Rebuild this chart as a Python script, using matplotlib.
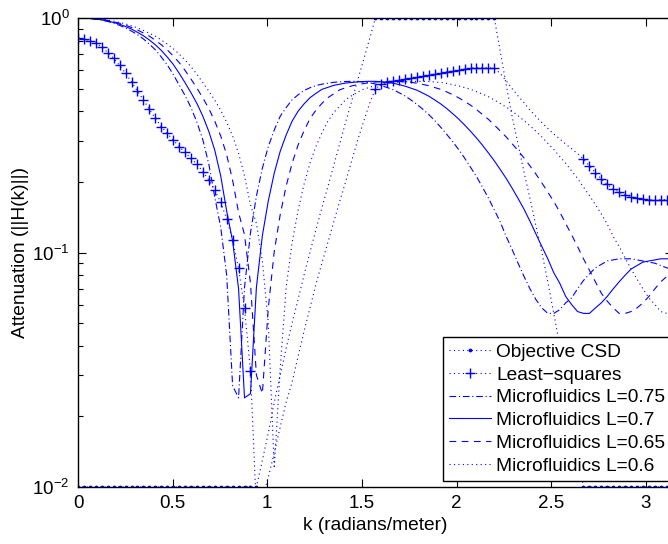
import numpy as np
import matplotlib.pyplot as plt

plt.rcParams['font.family'] = ['Liberation Sans', 'DejaVu Sans']
plt.rcParams['mathtext.fontset'] = 'custom'
plt.rcParams['mathtext.rm'] = 'Liberation Sans'
plt.rcParams['mathtext.it'] = 'Liberation Sans:italic'

# spatial frequency grid, k = n*pi/100
n_pts = 101

# desired response: stopband / transition / passband / transition / stopband
objective = ([0.01] * 31
             + [0.013, 0.017, 0.023, 0.030, 0.039, 0.050, 0.063, 0.080, 0.100, 0.125,
                0.155, 0.190, 0.235, 0.290, 0.360, 0.440, 0.540, 0.660, 0.810]
             + [1.0] * 21
             + [0.720, 0.520, 0.380, 0.290, 0.220, 0.170, 0.130, 0.100, 0.075, 0.055,
                0.040, 0.028, 0.020, 0.014]
             + [0.01] * 16)

least_squares = [0.824, 0.814, 0.800, 0.780, 0.754, 0.711, 0.673, 0.628, 0.581, 0.533,
                 0.488, 0.447, 0.408, 0.374, 0.344, 0.322, 0.302, 0.283, 0.267, 0.252,
                 0.238, 0.221, 0.204, 0.184, 0.164, 0.139, 0.113, 0.0856, 0.0578, 0.0313,
                 0.008, 0.009, 0.011, 0.014, 0.018, 0.023, 0.028, 0.036, 0.046, 0.058,
                 0.073, 0.090, 0.110, 0.135, 0.165, 0.200, 0.245, 0.300, 0.360, 0.430,
                 0.498, 0.522, 0.532, 0.537, 0.543, 0.549, 0.555, 0.558, 0.564, 0.569,
                 0.577, 0.583, 0.589, 0.594, 0.600, 0.606, 0.610, 0.614, 0.614, 0.612,
                 0.610, 0.580, 0.540, 0.500, 0.465, 0.435, 0.405, 0.380, 0.358, 0.338,
                 0.320, 0.305, 0.290, 0.277, 0.264,
                 0.250, 0.234, 0.219, 0.206, 0.195, 0.187, 0.181, 0.176, 0.173, 0.170,
                 0.169, 0.168, 0.168, 0.168, 0.168, 0.168]

micro_075 = [1.000, 0.998, 0.995, 0.988, 0.980, 0.966, 0.951, 0.930, 0.907, 0.879,
             0.849, 0.814, 0.774, 0.732, 0.682, 0.632, 0.575, 0.519, 0.467, 0.415,
             0.359, 0.302, 0.238, 0.172, 0.128, 0.080, 0.027, 0.024, 0.071, 0.121,
             0.174, 0.229, 0.283, 0.333, 0.381, 0.415, 0.448, 0.470, 0.491, 0.504,
             0.515, 0.522, 0.527, 0.532, 0.534, 0.536, 0.537, 0.537, 0.533, 0.530,
             0.523, 0.515, 0.505, 0.495, 0.480, 0.465, 0.447, 0.428, 0.408, 0.387,
             0.365, 0.342, 0.319, 0.297, 0.275, 0.253, 0.231, 0.211, 0.190, 0.171,
             0.152, 0.135, 0.117, 0.103, 0.090, 0.079, 0.070, 0.063, 0.058, 0.055,
             0.055, 0.057, 0.061, 0.064, 0.070, 0.076, 0.081, 0.086, 0.089, 0.092,
             0.093, 0.094, 0.094, 0.094, 0.093, 0.092, 0.091, 0.090, 0.088, 0.086,
             0.085]

micro_070 = [1.000, 0.998, 0.996, 0.990, 0.982, 0.971, 0.957, 0.941, 0.919, 0.897,
             0.869, 0.840, 0.806, 0.769, 0.728, 0.682, 0.635, 0.582, 0.530, 0.480,
             0.432, 0.381, 0.328, 0.273, 0.212, 0.150, 0.112, 0.070, 0.024, 0.025,
             0.071, 0.118, 0.166, 0.218, 0.270, 0.317, 0.363, 0.400, 0.430, 0.457,
             0.477, 0.496, 0.506, 0.516, 0.522, 0.528, 0.531, 0.534, 0.536, 0.537,
             0.537, 0.535, 0.532, 0.527, 0.520, 0.512, 0.502, 0.492, 0.478, 0.464,
             0.447, 0.430, 0.411, 0.391, 0.371, 0.350, 0.329, 0.308, 0.287, 0.266,
             0.246, 0.226, 0.207, 0.188, 0.170, 0.153, 0.136, 0.120, 0.106, 0.094,
             0.082, 0.074, 0.065, 0.060, 0.056, 0.055, 0.055, 0.058, 0.061, 0.065,
             0.070, 0.075, 0.080, 0.085, 0.088, 0.091, 0.092, 0.093, 0.094, 0.094,
             0.094]

micro_065 = [1.000, 0.998, 0.996, 0.991, 0.984, 0.977, 0.963, 0.950, 0.932, 0.911,
             0.889, 0.863, 0.837, 0.804, 0.769, 0.732, 0.689, 0.646, 0.598, 0.549,
             0.502, 0.456, 0.411, 0.363, 0.314, 0.261, 0.203, 0.148, 0.119, 0.074,
             0.030, 0.025, 0.058, 0.101, 0.145, 0.192, 0.240, 0.287, 0.330, 0.372,
             0.404, 0.432, 0.457, 0.475, 0.494, 0.504, 0.513, 0.520, 0.525, 0.530,
             0.533, 0.535, 0.536, 0.537, 0.537, 0.534, 0.532, 0.527, 0.521, 0.514,
             0.505, 0.496, 0.484, 0.471, 0.457, 0.441, 0.425, 0.407, 0.388, 0.370,
             0.350, 0.330, 0.311, 0.291, 0.272, 0.253, 0.234, 0.216, 0.198, 0.181,
             0.165, 0.149, 0.133, 0.119, 0.106, 0.094, 0.084, 0.075, 0.067, 0.062,
             0.058, 0.055, 0.055, 0.056, 0.058, 0.061, 0.065, 0.070, 0.075, 0.079,
             0.084]

micro_060 = [1.000, 0.998, 0.996, 0.993, 0.987, 0.980, 0.969, 0.957, 0.944, 0.925,
             0.907, 0.885, 0.861, 0.837, 0.806, 0.774, 0.741, 0.702, 0.662, 0.620,
             0.575, 0.530, 0.488, 0.446, 0.404, 0.359, 0.314, 0.265, 0.212, 0.160,
             0.133, 0.092, 0.050, 0.012, 0.032, 0.071, 0.110, 0.151, 0.195, 0.240,
             0.283, 0.323, 0.362, 0.395, 0.421, 0.448, 0.466, 0.482, 0.497, 0.506,
             0.515, 0.521, 0.525, 0.530, 0.532, 0.534, 0.536, 0.537, 0.537, 0.536,
             0.533, 0.531, 0.526, 0.520, 0.513, 0.505, 0.497, 0.485, 0.474, 0.462,
             0.447, 0.432, 0.417, 0.401, 0.383, 0.365, 0.347, 0.329, 0.311, 0.292,
             0.275, 0.257, 0.240, 0.223, 0.207, 0.190, 0.175, 0.160, 0.146, 0.132,
             0.117, 0.106, 0.095, 0.085, 0.077, 0.070, 0.064, 0.060, 0.056, 0.055,
             0.055]

# indices where the objective is specified (stopbands and passband)
band_idx = list(range(0, 31)) + list(range(50, 71)) + list(range(85, 101))

k = np.arange(n_pts) * np.pi / 100

fig = plt.figure(figsize=(6.68, 5.44), dpi=100)
ax = fig.add_axes([78 / 668, 57 / 544, 594.7 / 668, 469 / 544])

blue = (0, 0, 1)
lw = 0.8
dot = (0, (1, 3))
ax.semilogy(k, objective, color=blue, lw=lw, ls=dot, marker='.',
            ms=3.5, markevery=band_idx, label='Objective CSD')
ax.semilogy(k, least_squares, color=blue, lw=lw, ls=dot, marker='+',
            ms=7, mew=1.0, markevery=band_idx, label='Least\u2212squares')
ax.semilogy(k, micro_075, color=blue, lw=lw, ls=(0, (6, 2.5, 1, 2.5)),
            label='Microfluidics L=0.75')
ax.semilogy(k, micro_070, color=blue, lw=lw, ls='-',
            label='Microfluidics L=0.7')
ax.semilogy(k, micro_065, color=blue, lw=lw, ls=(0, (6, 5)),
            label='Microfluidics L=0.65')
ax.semilogy(k, micro_060, color=blue, lw=lw, ls=dot,
            label='Microfluidics L=0.6')

ax.set_xlim(0, np.pi)
ax.set_ylim(1e-2, 1)
ax.set_xticks([0, 0.5, 1, 1.5, 2, 2.5, 3])
ax.set_xticklabels(['0', '0.5', '1', '1.5', '2', '2.5', '3'])
ax.tick_params(which='both', direction='in', top=True, right=True,
               labelsize=13.5, pad=6)
ax.tick_params(which='major', length=6, width=0.8)
ax.tick_params(which='minor', length=3.5, width=0.8)
for s in ax.spines.values():
    s.set_linewidth(1.0)

ax.set_xlabel('k (radians/meter)', fontsize=13.8, labelpad=3)
ax.set_ylabel('Attenuation (||H(k)||)', fontsize=13.8, labelpad=2)

leg = ax.legend(loc='lower right', bbox_to_anchor=(0.998, 0.013),
                borderaxespad=0, fontsize=13.8, numpoints=1, handlelength=2.2,
                handletextpad=0.27, labelspacing=0.28, borderpad=0.32,
                fancybox=False, framealpha=1, edgecolor='black')
leg.get_frame().set_linewidth(1.0)

fig.savefig('out.png', dpi=100)
